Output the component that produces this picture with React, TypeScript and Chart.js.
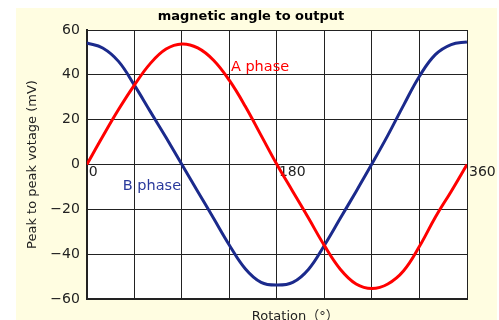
import React, { useEffect, useRef } from 'react';
import { Chart, registerables } from 'chart.js';

Chart.register(...registerables);

// Rotation angles (degrees)
const angles = [0, 15, 30, 45, 60, 75, 90, 105, 120, 135, 150, 165, 180, 195, 210, 225, 240, 255, 270, 285, 300, 315, 330, 345, 360];
// A phase peak-to-peak voltage (mV)
const phaseA = [0, 12.5, 24.5, 35.4, 45, 51.5, 53.8, 52, 46.5, 37.5, 26, 13, 0, -12, -24, -36.2, -46.7, -53.3, -55.3, -53.3, -47.4, -36.5, -23.5, -12, 0];
// B phase peak-to-peak voltage (mV)
const phaseB = [54.2, 52, 46, 35.4, 23.7, 12, 0, -12, -24, -36, -46.5, -52.6, -53.8, -52.6, -46.7, -36, -24, -12, 0.3, 13, 26.5, 39.4, 49, 53.5, 54.7];
// Labelled x ticks
const xLabelTicks = [0, 180, 360];

const FONT = '"DejaVu Sans", "Liberation Sans", Arial, sans-serif';
const RED = '#ff0000';
const BLUE = '#1b2a8c';
const GRID = '#222222';

const areaBg = {
  id: 'areaBg',
  beforeDraw(chart: any) {
    const { ctx, chartArea } = chart;
    if (!chartArea) return;
    ctx.save();
    ctx.fillStyle = '#ffffff';
    ctx.fillRect(chartArea.left, chartArea.top, chartArea.right - chartArea.left, chartArea.bottom - chartArea.top);
    ctx.restore();
  },
};

const texts = {
  id: 'texts',
  afterDraw(chart: any) {
    const { ctx, chartArea, scales } = chart;
    const x = scales.x;
    const y = scales.y;
    ctx.save();
    // chart title
    ctx.font = `bold 13px ${FONT}`;
    ctx.fillStyle = '#000';
    ctx.textAlign = 'center';
    ctx.textBaseline = 'middle';
    ctx.fillText('magnetic angle to output', chart.width / 2 + 1.5, chartArea.top - 13.5);
    // series labels
    ctx.font = `14.5px ${FONT}`;
    ctx.textAlign = 'left';
    ctx.fillStyle = RED;
    ctx.fillText('A phase', x.getPixelForValue(136.4), y.getPixelForValue(43.6));
    ctx.fillStyle = '#2a3a9c';
    ctx.fillText('B phase', x.getPixelForValue(34), y.getPixelForValue(-9.5));
    // x-axis title
    ctx.font = `13px ${FONT}, "Noto Sans CJK JP"`;
    ctx.fillStyle = '#222';
    ctx.textBaseline = 'alphabetic';
    ctx.fillText('Rotation（°）', chartArea.left + 165, chartArea.bottom + 21);
    ctx.restore();
  },
};

export default function App() {
  const ref = useRef<HTMLCanvasElement>(null);
  useEffect(() => {
    if (!ref.current) return;
    const chart = new Chart(ref.current, {
      type: 'line',
      data: {
        datasets: [
          {
            label: 'A phase',
            data: angles.map((a, i) => ({ x: a, y: phaseA[i] })),
            borderColor: RED,
            borderWidth: 3,
            pointRadius: 0,
            tension: 0.4,
            fill: false,
          },
          {
            label: 'B phase',
            data: angles.map((a, i) => ({ x: a, y: phaseB[i] })),
            borderColor: BLUE,
            borderWidth: 3,
            pointRadius: 0,
            tension: 0.4,
            fill: false,
          },
        ],
      },
      options: {
        responsive: false,
        animation: false,
        layout: { padding: { left: 21, right: 32, top: 30, bottom: 21 } },
        plugins: {
          legend: { display: false },
          tooltip: { enabled: false },
          title: { display: false },
        },
        scales: {
          x: {
            type: 'linear',
            min: 0,
            max: 360,
            ticks: { stepSize: 45, display: false },
            grid: { color: GRID, lineWidth: 1, drawTicks: false },
            border: { color: GRID, width: 2 },
          },
          x2: {
            type: 'linear',
            axis: 'x',
            position: { y: 0 },
            min: 0,
            max: 360,
            ticks: {
              stepSize: 180,
              align: 'start',
              labelOffset: 2,
              padding: -1,
              color: '#222',
              font: { family: FONT, size: 14 },
              callback: (v: any) => (xLabelTicks.includes(Number(v)) ? String(v) : ''),
            },
            grid: { display: false, drawTicks: false },
            border: { display: false },
          },
          y: {
            type: 'linear',
            min: -60,
            max: 60,
            ticks: {
              stepSize: 20,
              padding: 7,
              color: '#222',
              font: { family: FONT, size: 14 },
              callback: (v: any) => String(v).replace('-', '\u2212'),
            },
            grid: { color: GRID, lineWidth: 1, drawTicks: false },
            border: { color: GRID, width: 2 },
            title: {
              display: true,
              text: 'Peak to peak votage (mV)',
              color: '#222',
              font: { family: FONT, size: 13 },
              padding: { top: 4, bottom: 2.7 },
            },
          },
        },
      },
      plugins: [areaBg, texts],
    });
    return () => chart.destroy();
  }, []);

  return (
    <div style={{ position: 'absolute', left: 0, top: 0, width: 499, height: 320, overflow: 'hidden', background: '#ffffff' }}>
      <div style={{ position: 'absolute', left: 16, top: 8, width: 481, height: 312, background: '#fffde1' }} />
      <canvas ref={ref} width={499} height={320} style={{ position: 'absolute', left: 0, top: 0, width: 499, height: 320 }} />
    </div>
  );
}
